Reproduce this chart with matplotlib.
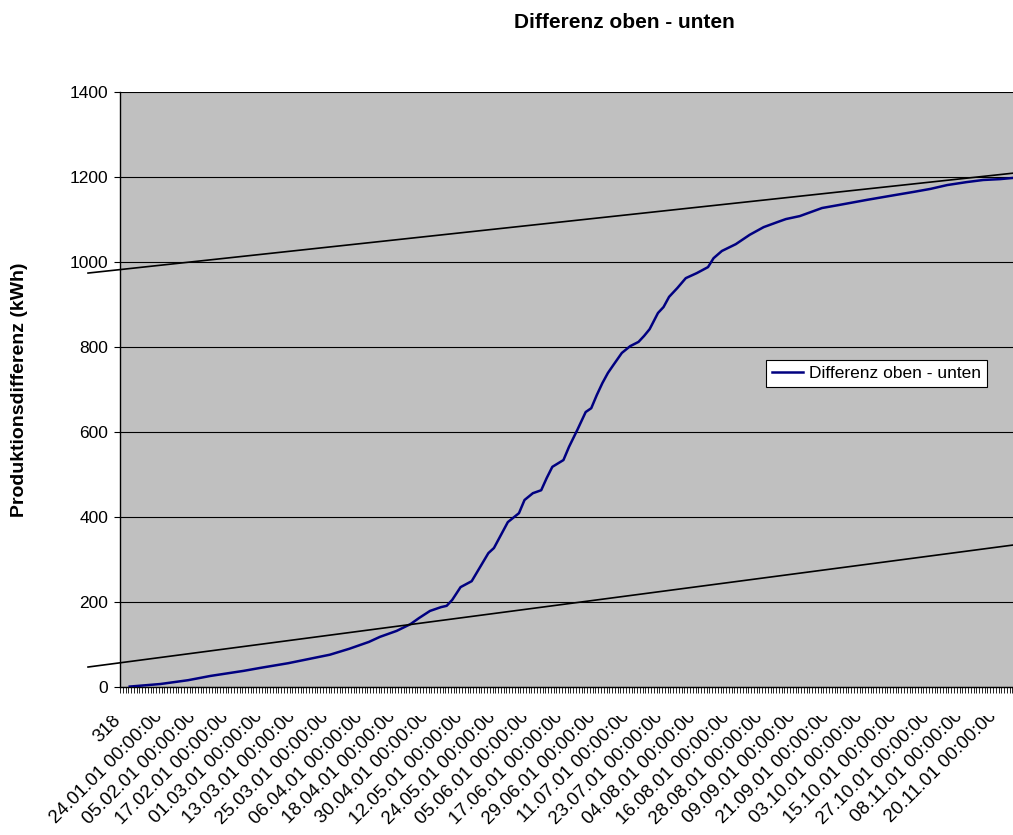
import numpy as np
import matplotlib.pyplot as plt
from matplotlib.transforms import Bbox, TransformedBbox, ScaledTranslation

plt.rcParams['font.family'] = ['Liberation Sans', 'DejaVu Sans']

# Tage seit dem 12.01.01 (Kategorie 0 = Kopfzelle "318") und kumulierte Differenz in kWh
tage = [3, 14, 24, 32, 44, 50, 60, 69, 75, 82, 89, 93, 99, 104, 107, 111, 115, 117,
        119, 122, 126, 128, 132, 134, 139, 143, 145, 148, 151, 153, 155, 159, 161,
        164, 167, 169, 171, 173, 175, 177, 180, 183, 186, 188, 190, 193, 195, 197,
        200, 203, 207, 211, 213, 216, 221, 226, 231, 236, 239, 244, 252, 258, 268,
        276, 285, 291, 297, 304, 310, 316, 321]
differenz = [1, 7, 16, 26, 38, 45, 56, 68, 76, 90, 106, 118, 132, 148, 162, 179, 188, 191,
             205, 235, 249, 271, 315, 327, 388, 409, 440, 456, 463, 492, 518, 534, 565,
             605, 647, 656, 687, 715, 739, 758, 786, 802, 812, 826, 842, 880, 894, 918,
             939, 962, 974, 988, 1009, 1026, 1042, 1064, 1082, 1094, 1101, 1108, 1127,
             1134, 1146, 1155, 1165, 1172, 1181, 1188, 1193, 1195, 1198]

# zwei von Hand eingezeichnete Geraden (Anfang / Ende)
geraden_x = [-12, 320.7]
gerade_oben = [974, 1209]
gerade_unten = [47, 334]

daten = ['24.01.01', '05.02.01', '17.02.01', '01.03.01', '13.03.01', '25.03.01',
         '06.04.01', '18.04.01', '30.04.01', '12.05.01', '24.05.01', '05.06.01',
         '17.06.01', '29.06.01', '11.07.01', '23.07.01', '04.08.01', '16.08.01',
         '28.08.01', '09.09.01', '21.09.01', '03.10.01', '15.10.01', '27.10.01',
         '08.11.01', '20.11.01']
beschriftung = ['318'] + [d + ' 00:00:00' for d in daten]
n_kat = 321

W, H = 1013, 835
fig = plt.figure(figsize=(W / 100, H / 100), dpi=100)
ax = fig.add_axes([120 / W, 148 / H, (W - 120) / W, 595 / H])
ax.set_facecolor('#C0C0C0')

ax.plot(tage, differenz, color='#000080', lw=1.8, label='Differenz oben - unten', zorder=3)
ax.plot(geraden_x, gerade_oben, color='black', lw=1.2, clip_on=False, zorder=4)
ax.plot(geraden_x, gerade_unten, color='black', lw=1.2, clip_on=False, zorder=4)

ax.set_xlim(-0.5, n_kat - 0.3)
ax.set_ylim(0, 1400)
ax.set_yticks(np.arange(0, 1401, 200))
ax.yaxis.grid(True, color='black', lw=0.8)
ax.set_axisbelow(True)
ax.tick_params(axis='y', labelsize=12.5, length=4, width=0.8, pad=4.5)

ax.set_xticks(np.arange(len(beschriftung)) * 12)
ax.set_xticklabels(beschriftung, rotation=45, ha='right', va='top',
                   rotation_mode='anchor', fontsize=13.5)
ax.set_xticks(np.arange(-0.5, n_kat, 1), minor=True)
ax.tick_params(axis='x', which='major', length=0, pad=15)
ax.tick_params(axis='x', which='minor', length=4, width=0.6, direction='out')

# lange Datumsbeschriftungen oben abschneiden
clip = TransformedBbox(Bbox.from_extents(0, 0, 1, (H - 716) / H), fig.transFigure)
for i, lbl in enumerate(ax.get_xticklabels()):
    lbl.set_clip_on(True)
    lbl.set_clip_box(clip)
    dx, dy = (-9, -4) if i == 0 else (-1, 0)
    lbl.set_transform(lbl.get_transform() + ScaledTranslation(dx / 100, dy / 100, fig.dpi_scale_trans))

for s in ['top', 'right']:
    ax.spines[s].set_visible(False)
for s in ['left', 'bottom']:
    ax.spines[s].set_linewidth(1.0)
    ax.spines[s].set_color('black')

ax.set_ylabel('Produktionsdifferenz (kWh)', fontsize=14, fontweight='bold')
ax.yaxis.set_label_coords(-0.103, 0.5)

fig.text(624 / W, 1 - 22 / H, 'Differenz oben - unten', ha='center', va='center',
         fontsize=15, fontweight='bold')

leg = ax.legend(loc='upper left', bbox_to_anchor=(0.7234, 0.5496), borderaxespad=0,
                fancybox=False, framealpha=1, edgecolor='black', fontsize=12.5,
                handlelength=1.8, handletextpad=0.3, borderpad=0.35)
leg.get_frame().set_linewidth(0.8)

fig.savefig('out.png', dpi=100)
